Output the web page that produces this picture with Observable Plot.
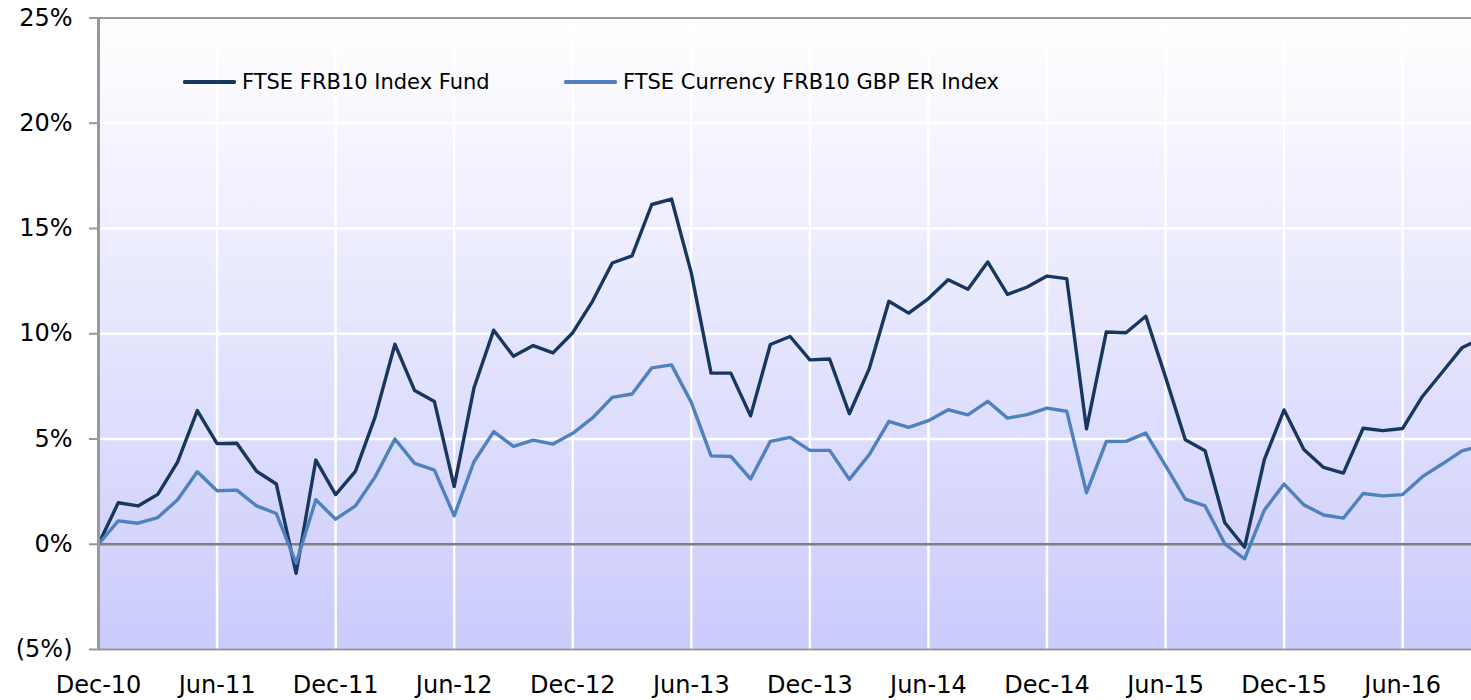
<!DOCTYPE html>
<html>
<head>
<meta charset="utf-8">
<script src="https://cdn.jsdelivr.net/npm/d3@7"></script>
<script src="https://cdn.jsdelivr.net/npm/@observablehq/plot@0.6"></script>
<style>
  html, body { margin: 0; padding: 0; background: #ffffff; }
  #wrap { position: relative; width: 1471px; height: 700px; font-family: "DejaVu Sans", Verdana, sans-serif; }
  .leg { position: absolute; top: 70px; height: 24px; display: flex; align-items: center; font-size: 21px; line-height: 24px; color: #000; white-space: nowrap; }
  .leg .sw { width: 53px; height: 3.5px; margin-right: 6px; border-radius: 1.5px; }
</style>
</head>
<body>
<div id="wrap"></div>
<script>
// Monthly categories (index 0 = Dec-10)
const months = [
  "Dec-10","Jan-11","Feb-11","Mar-11","Apr-11","May-11","Jun-11","Jul-11","Aug-11","Sep-11","Oct-11","Nov-11",
  "Dec-11","Jan-12","Feb-12","Mar-12","Apr-12","May-12","Jun-12","Jul-12","Aug-12","Sep-12","Oct-12","Nov-12",
  "Dec-12","Jan-13","Feb-13","Mar-13","Apr-13","May-13","Jun-13","Jul-13","Aug-13","Sep-13","Oct-13","Nov-13",
  "Dec-13","Jan-14","Feb-14","Mar-14","Apr-14","May-14","Jun-14","Jul-14","Aug-14","Sep-14","Oct-14","Nov-14",
  "Dec-14","Jan-15","Feb-15","Mar-15","Apr-15","May-15","Jun-15","Jul-15","Aug-15","Sep-15","Oct-15","Nov-15",
  "Dec-15","Jan-16","Feb-16","Mar-16","Apr-16","May-16","Jun-16","Jul-16","Aug-16","Sep-16","Oct-16"
];

// FTSE FRB10 Index Fund (%)
const fund = [
  0, 1.97, 1.82, 2.37, 3.9, 6.35, 4.78, 4.8, 3.47, 2.86, -1.38, 4.0,
  2.36, 3.46, 6.05, 9.5, 7.3, 6.78, 2.74, 7.42, 10.17, 8.93, 9.44, 9.09,
  10.05, 11.54, 13.36, 13.7, 16.14, 16.4, 12.89, 8.13, 8.13, 6.1, 9.49, 9.87,
  8.76, 8.8, 6.2, 8.33, 11.54, 10.98, 11.67, 12.57, 12.11, 13.41, 11.87, 12.22,
  12.74, 12.62, 5.48, 10.08, 10.05, 10.83, 7.94, 4.96, 4.44, 1.02, -0.14, 4.02,
  6.38, 4.5, 3.65, 3.38, 5.51, 5.4, 5.5, 7.02, 8.17, 9.33, 9.8
];

// FTSE Currency FRB10 GBP ER Index (%)
const indexSeries = [
  0, 1.11, 1.0, 1.27, 2.11, 3.44, 2.54, 2.57, 1.82, 1.46, -0.9, 2.11,
  1.19, 1.82, 3.2, 5.0, 3.84, 3.52, 1.35, 3.92, 5.35, 4.65, 4.95, 4.76,
  5.27, 6.0, 6.98, 7.14, 8.38, 8.52, 6.74, 4.2, 4.17, 3.1, 4.89, 5.08,
  4.46, 4.46, 3.08, 4.25, 5.84, 5.55, 5.87, 6.39, 6.15, 6.79, 5.99, 6.16,
  6.47, 6.32, 2.45, 4.88, 4.89, 5.28, 3.73, 2.14, 1.82, 0.02, -0.7, 1.62,
  2.86, 1.87, 1.39, 1.24, 2.41, 2.3, 2.36, 3.21, 3.81, 4.44, 4.68
];

const seriesNames = ["FTSE FRB10 Index Fund", "FTSE Currency FRB10 GBP ER Index"];
const seriesColors = ["#17375E", "#4F81BD"];

const xTickLabels = ["Dec-10","Jun-11","Dec-11","Jun-12","Dec-12","Jun-13","Dec-13","Jun-14","Dec-14","Jun-15","Dec-15","Jun-16"];
const yTicks = [-5, 0, 5, 10, 15, 20, 25];
const yTickLabels = ["(5%)", "0%", "5%", "10%", "15%", "20%", "25%"];

const W = 1471, H = 700;
const mL = 98, mR = 0, mT = 17.5, mB = 51;
const monthPx = 19.76;

const xTickIdx = xTickLabels.map(l => months.indexOf(l));
const rows = [];
months.forEach((m, i) => {
  rows.push({i, v: fund[i], s: seriesNames[0]});
  rows.push({i, v: indexSeries[i], s: seriesNames[1]});
});

const chart = Plot.plot({
  width: W,
  height: H,
  marginLeft: mL,
  marginRight: mR,
  marginTop: mT,
  marginBottom: mB,
  style: {fontFamily: "'DejaVu Sans', Verdana, sans-serif", fontSize: "24px", color: "#000", background: "transparent"},
  x: {type: "linear", domain: [0, (W - mL - mR) / monthPx], axis: null},
  y: {domain: [-5, 25], axis: null},
  color: {domain: seriesNames, range: seriesColors},
  marks: [
    Plot.frame({fill: "url(#bggrad)", stroke: "none"}),
    Plot.ruleX(xTickIdx.slice(1), {stroke: "#ffffff", strokeWidth: 2.5}),
    Plot.ruleY([5, 10, 15, 20], {stroke: "#ffffff", strokeWidth: 2.5}),
    Plot.ruleY([0], {stroke: "#808080", strokeWidth: 2.5}),
    Plot.line(rows, {x: "i", y: "v", z: "s", stroke: "s", strokeWidth: 3.4, clip: true, strokeLinejoin: "round", strokeLinecap: "round"}),
    Plot.ruleY([25, -5], {stroke: "#999999", strokeWidth: 2, x1: 0, x2: (W - mL - mR) / monthPx}),
    Plot.ruleX([0], {stroke: "#999999", strokeWidth: 3}),
    Plot.axisY({ticks: yTicks, tickFormat: d => yTickLabels[yTicks.indexOf(d)], tickSize: 9, tickPadding: 17, stroke: "#999999", strokeWidth: 2, fill: "#000", fontSize: 24, label: null}),
    Plot.axisX({ticks: xTickIdx, tickFormat: d => months[d], tickSize: 0, tickPadding: 26, fill: "#000", fontSize: 24, label: null})
  ]
});

const svg = d3.select(chart);
const defs = svg.insert("defs", ":first-child");
const grad = defs.append("linearGradient").attr("id", "bggrad").attr("x1", 0).attr("y1", 0).attr("x2", 0).attr("y2", 1);
grad.append("stop").attr("offset", "0%").attr("stop-color", "#FFFFFF");
grad.append("stop").attr("offset", "100%").attr("stop-color", "#CBCBFC");

const wrap = document.getElementById("wrap");
wrap.appendChild(chart);

const legendLeft = [183, 564];
seriesNames.forEach((name, k) => {
  const item = document.createElement("div");
  item.className = "leg";
  item.style.left = legendLeft[k] + "px";
  const sw = document.createElement("div");
  sw.className = "sw";
  sw.style.background = seriesColors[k];
  const tx = document.createElement("span");
  tx.textContent = name;
  item.appendChild(sw);
  item.appendChild(tx);
  wrap.appendChild(item);
});
</script>
</body>
</html>
